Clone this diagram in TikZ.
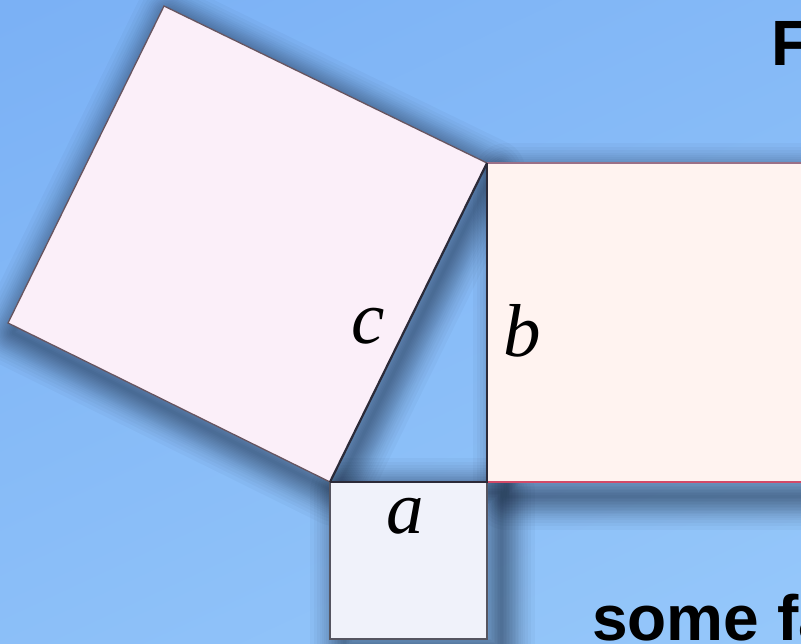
\documentclass[tikz,border=0pt]{standalone}
\usepackage{fontspec}
\setmainfont{Liberation Serif}
\newfontfamily\headsans{Liberation Sans}
\definecolor{bgA}{HTML}{7BB1F5}
\definecolor{bgB}{HTML}{95C7FA}
\definecolor{csq}{HTML}{FBEFF9}
\definecolor{bsq}{HTML}{FFF3F0}
\definecolor{asq}{HTML}{F0F2FA}
\definecolor{edgedark}{HTML}{2B2A38}
\definecolor{edgec}{HTML}{675560}
\definecolor{edgetop}{HTML}{9A7088}
\definecolor{edgered}{HTML}{D24A68}
\definecolor{shadowcol}{HTML}{0A1426}
\tikzset{
  shadowlayer/.style={draw=shadowcol, draw opacity=0.032, line width=#1, line join=round, fill=none},
  leglabel/.style={inner sep=0pt, font=\fontsize{75}{80}\selectfont\itshape},
  headtext/.style={inner sep=0pt, anchor=base west, font=\headsans\bfseries\fontsize{64}{70}\selectfont},
}
% #1 = right shift (pt), #2 = downward shift (pt), #3 = path
\newcommand\softshade[3]{%
  \begin{scope}[transform canvas={xshift=#1pt, yshift=-#2pt}]
  \foreach \w in {3,6,9,12,15,18,21,24,27,30,33,36,40,44,48,54,60,68}{%
    \path[shadowlayer=\w pt] #3;}
  \end{scope}}
\begin{document}
\begin{tikzpicture}[x=1pt,y=-1pt]
\useasboundingbox (0,0) rectangle (801,643);
\clip (0,0) rectangle (801,643);
\shade[top color=bgA, bottom color=bgB, shading angle=25] (-100,-100) rectangle (901,743);
% vertices
\coordinate (A) at (330,482);
\coordinate (C) at (487,482);
\coordinate (B) at (487,163);
\coordinate (P) at (164,6);
\coordinate (Q) at (8,323);
\coordinate (BR) at (806,163);
\coordinate (CR) at (806,482);
\coordinate (AD) at (330,639);
\coordinate (CD) at (487,639);
% soft shadows
\softshade{5}{10}{(A) -- (B) -- (P) -- (Q) -- cycle}
\softshade{20}{14}{(B) -- (BR) -- (CR) -- (C) -- cycle}
\softshade{14}{10}{(A) -- (C) -- (CD) -- (AD) -- cycle}
% square on c
\fill[csq] (A) -- (B) -- (P) -- (Q) -- cycle;
\draw[edgec, line width=1.3pt, line join=miter] (B) -- (P) -- (Q) -- (A);
% square on b
\fill[bsq] (B) -- (BR) -- (CR) -- (C) -- cycle;
\draw[edgetop, line width=1.5pt] (B) -- (BR);
\draw[edgered, line width=2pt] (C) -- (CR);
% square on a
\fill[asq] (A) -- (C) -- (CD) -- (AD) -- cycle;
\draw[edgedark!80, line width=1.3pt] (A) -- (AD) -- (CD) -- (C);
% triangle
\draw[edgedark, line width=2.6pt, line join=miter] (A) -- (C) -- (B);
\draw[edgedark, line width=2.2pt] (A) -- (B);
% labels
\node[leglabel] (lc) at (368,326) {c};
\node[leglabel] (lb) at (522,331) {b};
\node[leglabel] (la) at (405,516) {a};
% heading fragments
\node[headtext] (ttop) at (771,65) {F};
\node[headtext] (tbot) at (592,640) {some fa};
\end{tikzpicture}
\end{document}
